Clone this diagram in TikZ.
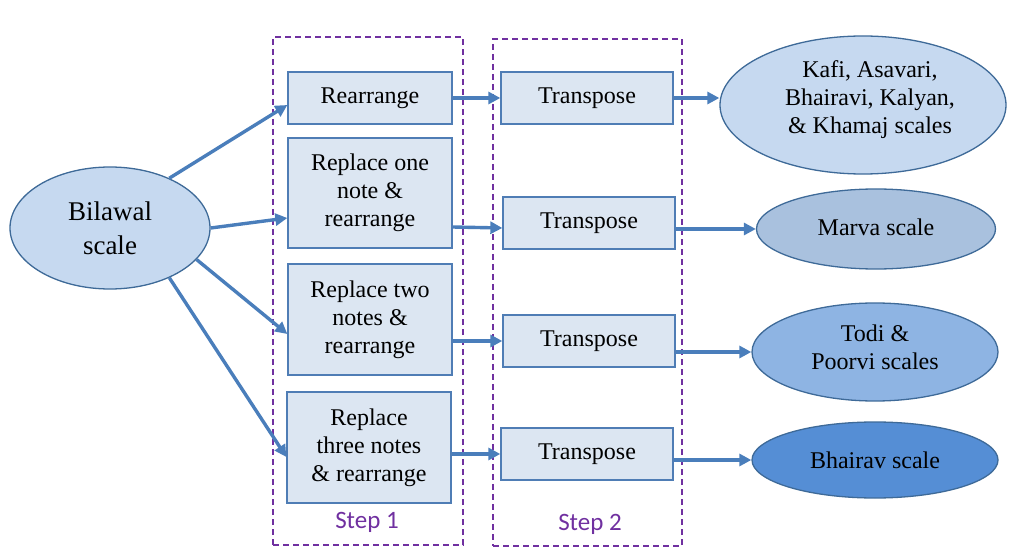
\documentclass[tikz,border=0pt]{standalone}
\usepackage{fontspec}
\setmainfont{Liberation Serif}
\newfontfamily\tnr{Liberation Serif}
\newfontfamily\calib{Carlito}
\usetikzlibrary{shapes.geometric,arrows.meta}
\definecolor{boxfill}{HTML}{DCE6F2}
\definecolor{boxline}{HTML}{4F7DB5}
\definecolor{ellline}{HTML}{3E6A98}
\definecolor{lightell}{HTML}{C6D9F0}
\definecolor{marvafill}{HTML}{A9C1DE}
\definecolor{todifill}{HTML}{8EB4E3}
\definecolor{bhairavfill}{HTML}{558ED5}
\definecolor{arrowcol}{HTML}{4A7EBB}
\definecolor{stepcol}{HTML}{7030A0}
\tikzset{
  stepbox/.style={draw=boxline, fill=boxfill, line width=1.3pt, rectangle, inner sep=0pt,
     align=center, font=\tnr\fontsize{24}{28}\selectfont},
  scaleell/.style={draw=ellline, line width=1.3pt, ellipse, inner sep=0pt,
     align=center, font=\tnr\fontsize{24}{28}\selectfont},
  groupframe/.style={draw=stepcol, line width=1.4pt, dash pattern=on 6pt off 4pt, rectangle, inner sep=0pt},
  steplabel/.style={text=stepcol, font=\calib\fontsize{25}{29}\selectfont, inner sep=0pt},
  conn/.style={draw=arrowcol, line width=3.4pt, -{Triangle[length=12pt,width=12pt]}}
}
\begin{document}
\begin{tikzpicture}[x=1pt,y=-1pt]
\useasboundingbox (0,0) rectangle (1013,548);
% group frames
\node[groupframe, minimum width=190pt, minimum height=508pt] (g1) at (368,291) {};
\node[groupframe, minimum width=189pt, minimum height=507pt] (g2) at (587.5,292.5) {};
\node[steplabel] (s1) at (367,522) {Step 1};
\node[steplabel] (s2) at (590,524) {Step 2};
% source
\node[scaleell, fill=lightell, minimum width=200pt, minimum height=122pt,
      font=\tnr\fontsize{27}{34}\selectfont] (bil) at (110,228) {Bilawal\\scale};
% step 1 boxes
\node[stepbox, minimum width=164pt, minimum height=52pt] (r1) at (370,98) {Rearrange};
\node[stepbox, minimum width=164pt, minimum height=110pt] (r2) at (370,193) {Replace one\\note \&\\rearrange};
\node[stepbox, minimum width=164pt, minimum height=111pt] (r3) at (370,319.5) {Replace two\\notes \&\\rearrange};
\node[stepbox, minimum width=164pt, minimum height=111pt] (r4) at (369,447.5) {Replace\\three notes\\\& rearrange};
% step 2 boxes
\node[stepbox, minimum width=172pt, minimum height=52pt] (t1) at (587,98) {Transpose};
\node[stepbox, minimum width=172pt, minimum height=52pt] (t2) at (589,223) {Transpose};
\node[stepbox, minimum width=172pt, minimum height=52pt] (t3) at (589,341) {Transpose};
\node[stepbox, minimum width=172pt, minimum height=52pt] (t4) at (587,454) {Transpose};
% results
\node[scaleell, fill=lightell, minimum width=286pt, minimum height=138pt] (kafi) at (863,105)
   {\hspace*{14pt}\raisebox{5pt}[\height][\depth]{\begin{tabular}{@{}c@{}}Kafi, Asavari,\\Bhairavi, Kalyan,\\\& Khamaj scales\end{tabular}}};
\node[scaleell, fill=marvafill, minimum width=239pt, minimum height=80pt] (marva) at (876,229) {\raisebox{2pt}[\height][\depth]{Marva scale}};
\node[scaleell, fill=todifill, minimum width=246pt, minimum height=98pt] (todi) at (875,352) {\raisebox{2pt}[\height][\depth]{\begin{tabular}{@{}c@{}}Todi \&\\Poorvi scales\end{tabular}}};
\node[scaleell, fill=bhairavfill, minimum width=246pt, minimum height=76pt] (bhairav) at (875,460) {Bhairav scale};
% connectors
\draw[conn] (bil.40) -- ([yshift=-7pt]r1.west);
\draw[conn] (bil.east) -- ([yshift=-25pt]r2.west);
\draw[conn] (bil.-20) -- ([yshift=-14.5pt]r3.west);
\draw[conn] (bil.-40) -- ([yshift=-9.5pt]r4.west);
\draw[conn] (r1.east) -- (t1.west);
\draw[conn] ([yshift=-34pt]r2.east) -- ([yshift=-5pt]t2.west);
\draw[conn] (r3.east |- t3.west) -- (t3.west);
\draw[conn] (r4.east |- t4.west) -- (t4.west);
\draw[conn] (t1.east) -- (t1.east -| kafi.west);
\draw[conn] (t2.east |- marva.west) -- (marva.west);
\draw[conn] (t3.east |- todi.west) -- (todi.west);
\draw[conn] (t4.east |- bhairav.west) -- (bhairav.west);
\end{tikzpicture}
\end{document}
